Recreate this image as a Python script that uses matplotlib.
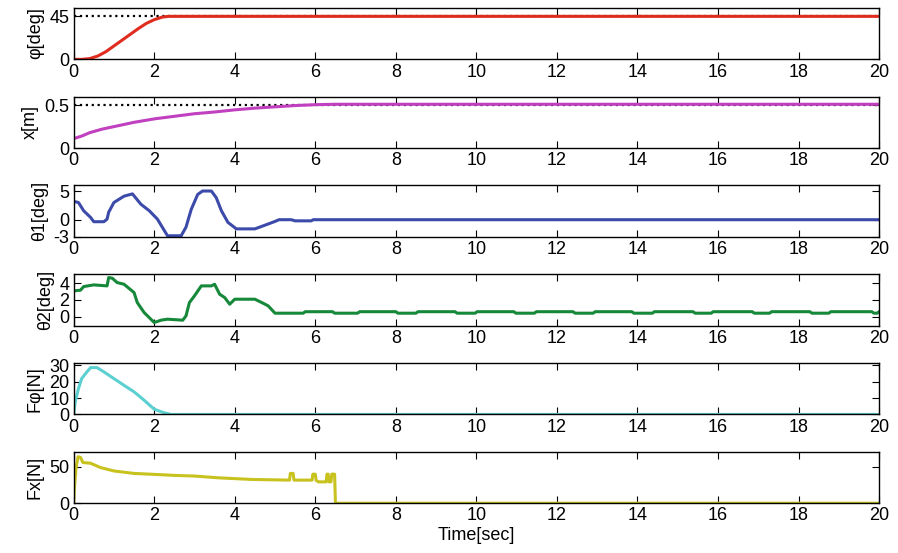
import numpy as np
import matplotlib.pyplot as plt

plt.rcParams['font.family'] = ['Liberation Sans', 'DejaVu Sans']
plt.rcParams['font.size'] = 13

T_END = 20

# arm angle phi [deg]
t_phi = [0, 0.2, 0.4, 0.6, 0.8, 1.0, 1.2, 1.4, 1.6, 1.8, 2.0, 2.2, 2.35, 20]
phi = [0, 0, 0.8, 3.5, 8, 14, 20, 26, 32, 37.5, 41.5, 44.2, 45, 45]
phi_ref = 45

# carriage position x [m]
t_x = [0, 0.2, 0.4, 0.7, 1.0, 1.5, 2.0, 2.5, 3.0, 3.5, 4.0, 4.5, 5.0, 5.5, 6.0, 6.5, 20]
x_pos = [0.11, 0.14, 0.18, 0.22, 0.25, 0.30, 0.34, 0.37, 0.40, 0.42, 0.445,
         0.465, 0.48, 0.495, 0.505, 0.51, 0.51]
x_ref = 0.5

# swing angle theta1 [deg]
t_th1 = [0, 0.12, 0.25, 0.42, 0.5, 0.75, 0.83, 0.87, 1.0, 1.25, 1.46, 1.67,
         1.88, 2.08, 2.33, 2.67, 2.79, 2.92, 3.08, 3.2, 3.42, 3.54, 3.67, 3.83,
         4.04, 4.5, 4.83, 5.0, 5.1, 5.4, 5.5, 5.9, 5.95, 20]
th1 = [3.2, 3.0, 1.55, 0.4, -0.35, -0.35, 0.1, 1.3, 3.0, 4.1, 4.5, 2.7,
       1.55, 0.1, -2.8, -2.8, -1.3, 1.8, 4.4, 5.0, 5.0, 3.85, 1.55, -0.46,
       -1.6, -1.6, -0.75, -0.3, 0, 0, -0.2, -0.2, 0, 0]

# swing angle theta2 [deg]
t_th2 = [0, 0.17, 0.25, 0.5, 0.83, 0.87, 0.96, 1.08, 1.25, 1.42, 1.5, 1.58,
         1.75, 2.0, 2.17, 2.33, 2.71, 2.79, 2.875, 3.0, 3.17, 3.42, 3.5, 3.625,
         3.75, 3.875, 4.0, 4.5, 4.67, 4.83, 5.0,
         5.7, 5.75, 6.43, 6.48, 7.05, 7.1, 8.0, 8.05, 8.5, 8.55, 9.47, 9.52,
         9.97, 10.02, 10.93, 10.98, 11.44, 11.49, 12.4, 12.45, 12.9, 12.95,
         13.86, 13.91, 14.37, 14.42, 15.38, 15.43, 15.83, 15.88, 16.85, 16.9,
         17.28, 17.33, 18.28, 18.33, 18.75, 18.8, 19.82, 19.87, 19.95, 20]
th2 = [3.08, 3.16, 3.6, 3.8, 3.68, 4.68, 4.6, 4.08, 3.88, 3.2, 2.88, 1.68,
       0.48, -0.72, -0.44, -0.32, -0.44, 0.08, 1.68, 2.48, 3.68, 3.68, 3.88, 2.68,
       2.28, 1.48, 2.08, 2.08, 1.68, 1.28, 0.4,
       0.4, 0.58, 0.58, 0.4, 0.4, 0.58, 0.58, 0.4, 0.4, 0.58, 0.58, 0.4,
       0.4, 0.58, 0.58, 0.4, 0.4, 0.58, 0.58, 0.4, 0.4, 0.58,
       0.58, 0.4, 0.4, 0.58, 0.58, 0.4, 0.4, 0.58, 0.58, 0.4,
       0.4, 0.58, 0.58, 0.4, 0.4, 0.58, 0.58, 0.4, 0.4, 0.58]

# arm torque force F_phi [N]
t_fphi = [0, 0.04, 0.12, 0.2, 0.33, 0.42, 0.58, 0.75, 1.0, 1.25, 1.5, 1.75,
          2.0, 2.25, 2.42, 20]
fphi = [0, 7.7, 15.8, 21.9, 26, 28.6, 28.6, 26, 21.9, 17.8, 13.8, 8.7,
        3.2, 1.0, 0, 0]

# carriage force F_x [N]
t_fx = [0, 0.02, 0.06, 0.11, 0.17, 0.23, 0.42, 0.67, 1.0, 1.5, 2.0, 2.5,
        3.0, 3.58, 4.42, 5.36, 5.38, 5.45, 5.47, 5.92, 5.94, 6.0, 6.02, 6.08,
        6.27, 6.29, 6.32, 6.34, 6.39, 6.41, 6.48, 6.5, 20]
fx = [0, 21, 49, 64, 63, 56, 55, 49, 44.4, 41, 39.7, 38.3,
      37.4, 35, 32.7, 31.8, 41, 41, 31.8, 31.8, 40, 40, 31.5, 29.4,
      29.4, 40, 40, 29.4, 29.4, 40, 40, 0, 0]

panels = [
    (t_phi, phi, '#e02b1f', 'φ[deg]', (0, 54), [0, 45], ['0', '45'], phi_ref),
    (t_x, x_pos, '#c040c0', 'x[m]', (0, 0.6), [0, 0.5], ['0', '0.5'], x_ref),
    (t_th1, th1, '#3c4aaa', 'θ1[deg]', (-3, 6), [-3, 0, 5], ['-3', '0', '5'], None),
    (t_th2, th2, '#16883a', 'θ2[deg]', (-1.1, 5.1), [0, 2, 4], ['0', '2', '4'], None),
    (t_fphi, fphi, '#5cd0d0', 'Fφ[N]', (0, 31.5), [0, 10, 20, 30],
     ['0', '10', '20', '30'], None),
    (t_fx, fx, '#c8c21e', 'Fx[N]', (0, 71), [0, 50], ['0', '50'], None),
]

fig, axes = plt.subplots(6, 1, figsize=(8.98, 5.53), dpi=100)
fig.subplots_adjust(left=0.082, right=0.979, top=0.986, bottom=0.090, hspace=0.72)

for ax, (t, y, color, label, ylim, yticks, ylabels, ref) in zip(axes, panels):
    if ref is not None:
        ax.axhline(ref, color='black', linestyle=':', linewidth=1.6)
    ax.plot(t, y, color=color, linewidth=2.2)
    ax.set_xlim(0, T_END)
    ax.set_ylim(*ylim)
    ax.set_xticks(np.arange(0, T_END + 1, 2))
    ax.set_yticks(yticks, labels=ylabels)
    ax.set_ylabel(label, labelpad=4)
    ax.tick_params(direction='in', top=True, right=True, length=5, width=0.8, pad=3)
    for s in ax.spines.values():
        s.set_linewidth(1.0)

axes[-1].set_xlabel('Time[sec]', labelpad=2)

plt.savefig('out.png', dpi=100)
